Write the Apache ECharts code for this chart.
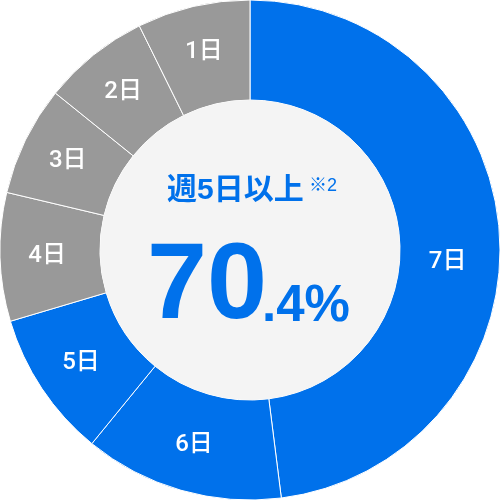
<!DOCTYPE html>
<html>
<head>
<meta charset="utf-8">
<script src="https://cdn.jsdelivr.net/npm/echarts@6/dist/echarts.min.js"></script>
<style>
  html, body { margin: 0; padding: 0; background: #fff; }
  #echarts { width: 500px; height: 500px; }
</style>
</head>
<body>
<div id="echarts"></div>
<script>
// 日数ごとの割合(%)
var days = ['7日', '6日', '5日', '4日', '3日', '2日', '1日'];
var ratios = [48.0, 12.9, 9.5, 8.3, 7.1, 6.9, 7.3];
// 週5日以上に含まれるか
var isTarget = [true, true, true, false, false, false, false];
var headText = '週5日以上';
var noteText = '※2';
var bigText = '70';
var smallText = '.4%';

var BLUE = '#0071eb';
var GRAY = '#999999';
var FONT = '"Liberation Sans", "Noto Sans CJK JP", sans-serif';
var LABEL_FONT = 'Roboto, "Noto Sans CJK JP", sans-serif';

var pieData = days.map(function (d, i) {
    var item = {
        name: d,
        value: ratios[i],
        itemStyle: { color: isTarget[i] ? BLUE : GRAY }
    };
    // 7日のラベルだけ少し下にずらす
    if (i === 0) {
        item.label = { offset: [-5, 25] };
    }
    return item;
});

var myChart = echarts.init(document.getElementById('echarts'));
var option = {
    animation: false,
    series: [
        {
            type: 'pie',
            silent: true,
            center: ['50%', '50%'],
            radius: ['60%', '100%'],
            startAngle: 90,
            clockwise: true,
            itemStyle: {
                borderColor: '#ffffff',
                borderWidth: 1
            },
            label: {
                show: true,
                position: 'inside',
                formatter: '{b}',
                color: '#ffffff',
                fontSize: 24,
                fontWeight: 500,
                fontFamily: LABEL_FONT
            },
            labelLine: { show: false },
            data: pieData
        },
        {
            // 中央の薄いグレーの円
            type: 'pie',
            silent: true,
            center: ['50%', '50%'],
            radius: [0, '60%'],
            label: { show: false },
            itemStyle: { color: '#f4f4f4' },
            data: [{ name: '', value: 1 }]
        }
    ],
    graphic: [
        {
            type: 'text',
            z: 100,
            x: 167,
            y: 191,
            style: {
                text: headText,
                fill: BLUE,
                align: 'left',
                verticalAlign: 'middle',
                fontSize: 30,
                fontWeight: 'bold',
                fontFamily: FONT
            }
        },
        {
            type: 'text',
            z: 100,
            x: 309,
            y: 186,
            style: {
                text: noteText,
                fill: BLUE,
                align: 'left',
                verticalAlign: 'middle',
                fontSize: 18,
                fontFamily: FONT
            }
        },
        {
            type: 'text',
            z: 100,
            x: 147,
            y: 288,
            style: {
                text: bigText,
                fill: BLUE,
                align: 'left',
                verticalAlign: 'middle',
                fontSize: 108,
                fontWeight: 'bold',
                fontFamily: FONT
            }
        },
        {
            type: 'text',
            z: 100,
            x: 262,
            y: 307,
            style: {
                text: smallText,
                fill: BLUE,
                align: 'left',
                verticalAlign: 'middle',
                fontSize: 51,
                fontWeight: 'bold',
                fontFamily: FONT
            }
        }
    ]
};
myChart.setOption(option);
</script>
</body>
</html>
